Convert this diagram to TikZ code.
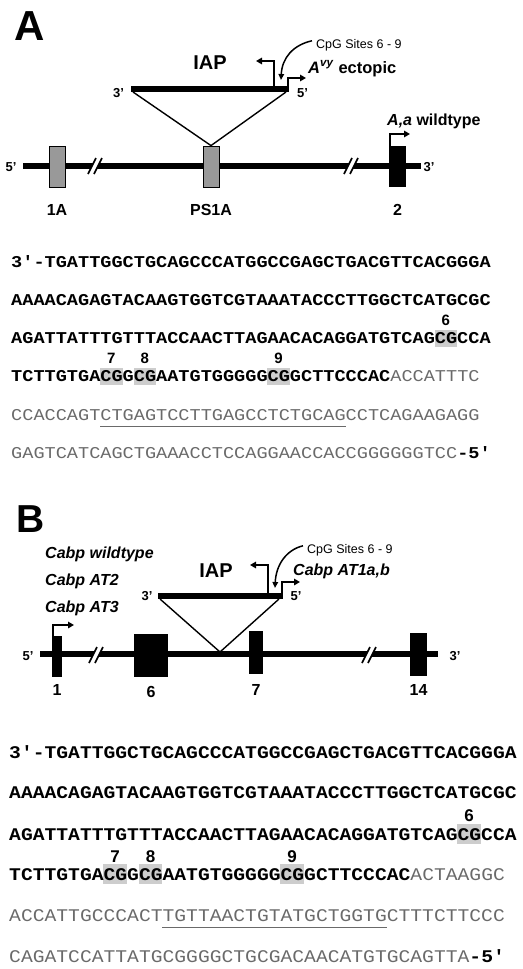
\documentclass[tikz,border=0pt]{standalone}
\usepackage{fontspec}
\setmainfont{Liberation Sans}
\newfontfamily\seqAfont[FakeStretch=1.1263]{Liberation Mono}
\newfontfamily\seqBfont[FakeStretch=1.1049]{Liberation Mono}
\usetikzlibrary{arrows.meta}
\definecolor{exgray}{HTML}{999999}
\definecolor{hlgray}{HTML}{CDCDCD}
\definecolor{seqgray}{HTML}{6A6A6A}
\newcommand{\fs}[1]{\fontsize{#1}{#1}\selectfont}
\tikzset{
  gene/.style={line width=6pt},
  iapbar/.style={line width=6pt},
  tri/.style={line width=1.4pt, line join=round},
  promo/.style={line width=1.8pt, -{Triangle[length=6pt,width=6.5pt]}},
  curv/.style={line width=1.5pt, -{Triangle[length=6pt,width=5.5pt]}},
  exg/.style={draw=black, fill=exgray, line width=0.8pt, inner sep=0, minimum width=16pt, minimum height=41pt},
  exb/.style={fill=black, inner sep=0},
  lab/.style={inner sep=0, anchor=base},
  bigl/.style={inner sep=0, anchor=base west},
  prime/.style={lab, font=\fs{13}\bfseries},
  exlab/.style={lab, font=\fs{16}\bfseries},
  cpg/.style={inner sep=0, anchor=base west, font=\fs{12.5}},
  numA/.style={lab, font=\fs{15}\bfseries},
  numB/.style={lab, font=\fs{17}\bfseries},
  seqA/.style={inner sep=0, anchor=base west, font=\seqAfont\fontsize{16.5}{16.5}\selectfont},
  seqB/.style={inner sep=0, anchor=base west, font=\seqBfont\fontsize{17.8}{17.8}\selectfont},
  uline/.style={draw=seqgray, line width=1.3pt},
  brk/.pic={
    \fill[white] (-7,8) -- (1,-8) -- (7,-8) -- (-1,8) -- cycle;
    \draw[line width=1.6pt] (-7,8) -- (1,-8) (-1,8) -- (7,-8);
  }
}
\newcommand{\cgA}[4]{%
  \fill[hlgray] ({11+(#2-1)*11.15},{#3-14}) rectangle ({11+(#2+1)*11.15},{#3+3});
  \node[numA] (#1) at ({11+#2*11.15},{#3-18.5}) {#4};}
\newcommand{\cgB}[4]{%
  \fill[hlgray] ({9+(#2-1)*11.8},{#3-16}) rectangle ({9+(#2+1)*11.8},{#3+4});
  \node[numB] (#1) at ({9+#2*11.8},{#3-18.3}) {#4};}
\begin{document}
\begin{tikzpicture}[x=1pt,y=-1pt]
\useasboundingbox (0,0) rectangle (522,969);
% ================= Panel A =================
\node[bigl, font=\fs{42}\bfseries] (labA) at (14,40) {A};
% gene line
\coordinate (gA1) at (23,166);
\coordinate (gA2) at (421,166);
\draw[gene] (gA1) -- (gA2);
\pic at (95,166) {brk};
\pic at (351,166) {brk};
\node[exg] (e1A) at (57,166.5) {};
\node[exg] (ePS1A) at (211,166.5) {};
\node[exb, minimum width=17pt, minimum height=41pt] (e2) at (397.5,166.5) {};
\node[prime] (a5p) at (11,171) {5'};
\node[prime] (a3p) at (429,171) {3'};
\node[exlab] (l1A) at (57,215) {1A};
\node[exlab] (lPS1A) at (211,215) {PS1A};
\node[exlab] (l2) at (397.5,215) {2};
% IAP
\coordinate (iapAL) at (131,89);
\coordinate (iapAR) at (289,89);
\draw[tri] (133,92) -- (ePS1A.north) -- (286,92);
\draw[iapbar] (iapAL) -- (iapAR);
\node[prime] (ia3) at (118.5,97) {3'};
\node[prime] (ia5) at (302.5,97) {5'};
\node[lab, font=\fs{20}\bfseries] (iapA) at (210,69) {IAP};
\coordinate (pAL) at (274,87);
\coordinate (pAR) at (288,87);
\draw[promo] (pAL) |- (256,61);
\draw[promo] (pAR) |- (306,78);
\node[cpg] (cpgA) at (316,48) {CpG Sites 6 - 9};
\draw[curv] (cpgA.west) ++(-4,-4) .. controls (293,45) and (282,58) .. (281,80);
\node[inner sep=0, anchor=base west, font=\fs{16.5}\bfseries] (avy) at (308,73) {\textit{A}\textsuperscript{\textit{vy}} ectopic};
\draw[promo] (390,146) |- (410,134);
\node[inner sep=0, anchor=base west, font=\fs{16}\bfseries] (wtA) at (387,125) {\textit{A,a} wildtype};
% sequence A
\cgA{n6A}{39}{343.6}{6}
\cgA{n7A}{9}{381.9}{7}
\cgA{n8A}{12}{381.9}{8}
\cgA{n9A}{24}{381.9}{9}
\node[seqA] (sa1) at (11,267) {\bfseries 3'-TGATTGGCTGCAGCCCATGGCCGAGCTGACGTTCACGGGA};
\node[seqA] (sa2) at (11,305.3) {\bfseries AAAACAGAGTACAAGTGGTCGTAAATACCCTTGGCTCATGCGC};
\node[seqA] (sa3) at (11,343.6) {\bfseries AGATTATTTGTTTACCAACTTAGAACACAGGATGTCAGCGCCA};
\node[seqA] (sa4) at (11,381.9) {{\bfseries TCTTGTGACGGCGAATGTGGGGGCGGCTTCCCAC}{\color{seqgray}ACCATTTC}};
\node[seqA] (sa5) at (11,420.2) {\color{seqgray}CCACCAGTCTGAGTCCTTGAGCCTCTGCAGCCTCAGAAGAGG};
\draw[uline] (100.2,426.5) -- (345.5,426.5);
\node[seqA] (sa6) at (11,458.5) {{\color{seqgray}GAGTCATCAGCTGAAACCTCCAGGAACCACCGGGGGGTCC}{\bfseries -5'}};
% ================= Panel B =================
\node[bigl, font=\fs{39}\bfseries] (labB) at (16,532) {B};
\coordinate (gB1) at (40,654);
\coordinate (gB2) at (438,654);
\draw[gene] (gB1) -- (gB2);
\pic at (96,655) {brk};
\pic at (369,655) {brk};
\node[exb, minimum width=10pt, minimum height=41pt] (x1) at (57,656.5) {};
\node[exb, minimum width=34pt, minimum height=43pt] (x6) at (151,655.5) {};
\node[exb, minimum width=14pt, minimum height=43pt] (x7) at (256,652.5) {};
\node[exb, minimum width=17pt, minimum height=43pt] (x14) at (418.5,654.5) {};
\node[prime] (b5p) at (28,660) {5'};
\node[prime] (b3p) at (455,660) {3'};
\node[exlab] (lx1) at (57,695) {1};
\node[exlab] (lx6) at (151,697) {6};
\node[exlab] (lx7) at (256,695) {7};
\node[exlab] (lx14) at (418.5,695) {14};
\draw[promo] (53,636) |- (74,625);
% IAP B
\coordinate (iapBL) at (158,596);
\coordinate (iapBR) at (283,596);
\coordinate (insB) at (220,652);
\draw[tri] (160,599) -- (insB) -- (279,599);
\draw[iapbar] (iapBL) -- (iapBR);
\node[prime] (ib3) at (147,600) {3'};
\node[prime] (ib5) at (296,600) {5'};
\node[lab, font=\fs{20}\bfseries] (iapB) at (216,577) {IAP};
\draw[promo] (268,594) |- (250,565);
\draw[promo] (282,594) |- (300,582);
\node[cpg] (cpgB) at (307,553) {CpG Sites 6 - 9};
\draw[curv] (cpgB.west) ++(-4,-4) .. controls (286,550) and (276,565) .. (275,588);
\node[inner sep=0, anchor=base west, font=\fs{16}\bfseries\itshape] (at1) at (293,575) {Cabp AT1a,b};
\node[inner sep=0, anchor=base west, font=\fs{16}\bfseries\itshape] (cwt) at (45,558) {Cabp wildtype};
\node[inner sep=0, anchor=base west, font=\fs{16}\bfseries\itshape] (cat2) at (45,585) {Cabp AT2};
\node[inner sep=0, anchor=base west, font=\fs{16}\bfseries\itshape] (cat3) at (45,612) {Cabp AT3};
% sequence B
\cgB{n6B}{39}{840}{6}
\cgB{n7B}{9}{880.4}{7}
\cgB{n8B}{12}{880.4}{8}
\cgB{n9B}{24}{880.4}{9}
\node[seqB] (sb1) at (9,758) {\bfseries 3'-TGATTGGCTGCAGCCCATGGCCGAGCTGACGTTCACGGGA};
\node[seqB] (sb2) at (9,798.8) {\bfseries AAAACAGAGTACAAGTGGTCGTAAATACCCTTGGCTCATGCGC};
\node[seqB] (sb3) at (9,840) {\bfseries AGATTATTTGTTTACCAACTTAGAACACAGGATGTCAGCGCCA};
\node[seqB] (sb4) at (9,880.4) {{\bfseries TCTTGTGACGGCGAATGTGGGGGCGGCTTCCCAC}{\color{seqgray}ACTAAGGC}};
\node[seqB] (sb5) at (9,921.2) {\color{seqgray}ACCATTGCCCACTTGTTAACTGTATGCTGGTGCTTTCTTCCC};
\draw[uline] (162.4,927.5) -- (386.6,927.5);
\node[seqB] (sb6) at (9,962) {{\color{seqgray}CAGATCCATTATGCGGGGCTGCGACAACATGTGCAGTTA}{\bfseries -5'}};
\end{tikzpicture}
\end{document}
